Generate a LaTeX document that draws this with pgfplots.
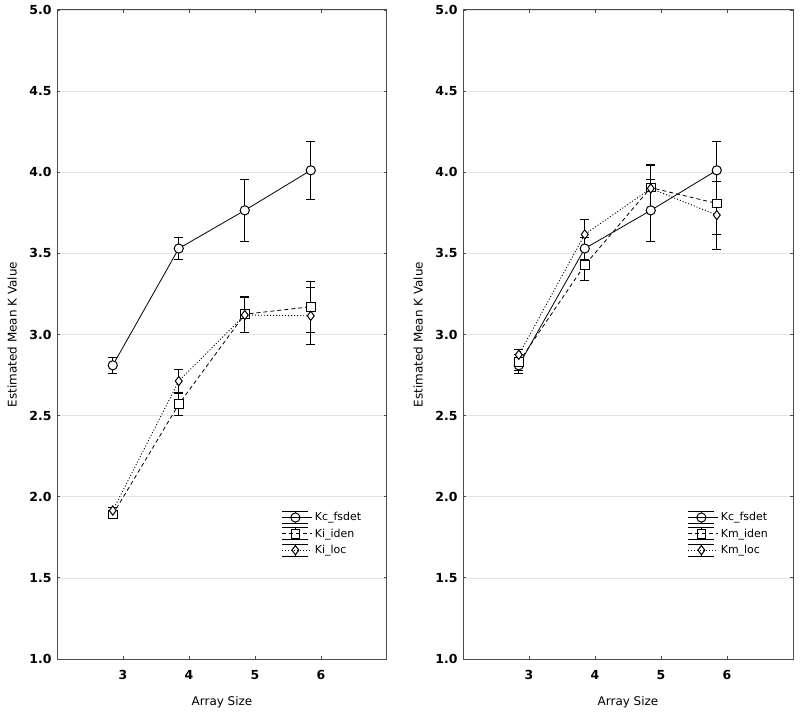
\documentclass[border=0pt]{standalone}
\usepackage{fontspec}
\setmainfont{DejaVu Sans}
\usepackage{pgfplots}
\pgfplotsset{compat=1.18}
\usepackage{pgfplotstable}

\pgfplotstableread{
x y e
2.845 2.810 0.050
3.845 3.530 0.070
4.845 3.765 0.190
5.845 4.012 0.180
}\fsdet
\pgfplotstableread{
x y e
2.845 1.890 0.020
3.845 2.570 0.068
4.845 3.125 0.112
5.845 3.171 0.156
}\kiiden
\pgfplotstableread{
x y e
2.845 1.915 0.020
3.845 2.713 0.070
4.845 3.120 0.110
5.845 3.115 0.176
}\kiloc
\pgfplotstableread{
x y e
2.845 2.830 0.050
3.845 3.428 0.093
4.845 3.905 0.145
5.845 3.808 0.190
}\kmiden
\pgfplotstableread{
x y e
2.845 2.875 0.035
3.845 3.617 0.090
4.845 3.900 0.145
5.845 3.736 0.210
}\kmloc

\pgfplotsset{
 panel/.style={
  scale only axis, width=330bp, height=649bp,
  xmin=2, xmax=7, ymin=1, ymax=5,
  xtick={3,4,5,6}, ytick={1,1.5,2,2.5,3,3.5,4,4.5,5},
  axis line style={black!70, line width=1bp},
  tick align=inside, major tick length=3bp,
  tick style={black!70, line width=0.8bp},
  ymajorgrids, grid style={black!10, line width=0.6bp},
  /pgf/number format/assume math mode=true,
  ticklabel style={font=\bfseries\fontsize{12.5}{14}\selectfont},
  yticklabel style={xshift=-2bp},
  y tick label style={/pgf/number format/.cd, fixed, fixed zerofill, precision=1},
  xticklabel style={yshift=-8bp},
  label style={font=\fontsize{12}{14}\selectfont},
  xlabel={Array Size},
  ylabel={Estimated Mean K Value},
  xlabel style={at={(axis description cs:0.5,-0.066)}, anchor=center},
  ylabel style={at={(axis description cs:-0.136,0.5)}, anchor=center},
  legend style={at={(axis description cs:0.672,0.232)}, anchor=north west, draw=none, fill=none,
    font=\fontsize{11}{13}\selectfont, row sep=2.5bp},
  legend cell align=left,
  legend image code/.code={
    \draw[solid, black, line width=0.8bp] (0bp,6bp) -- (26bp,6bp) (0bp,-6bp) -- (26bp,-6bp) (13bp,-6bp) -- (13bp,6bp);
    \draw[mark repeat=2, mark phase=2, #1] plot coordinates {(0bp,0bp) (13bp,0bp) (26bp,0bp)};
    \path (0bp,0bp) -- (30bp,0bp);
  },
 },
 errs/.style={error bars/.cd, y dir=both, y explicit,
   error bar style={solid, black, line width=0.8bp},
   error mark options={solid, black, rotate=90, mark size=4.5bp, line width=0.8bp}},
 sfs/.style={black, line width=0.8bp, solid, mark=*, mark size=4.6bp, mark options={solid, fill=white, line width=1bp}},
 sid/.style={black, line width=0.8bp, dash pattern=on 4bp off 3bp, mark=square*, mark size=4.3bp, mark options={solid, fill=white, line width=1bp}},
 slo/.style={black, line width=0.9bp, dash pattern=on 1bp off 2bp, mark=diamond*, mark size=4.6bp, mark options={solid, fill=white, line width=1bp}},
}

\begin{document}
\begin{tikzpicture}
\path[use as bounding box] (0,0) rectangle (800bp,715bp);
\begin{axis}[panel, at={(57bp,56bp)}, anchor=south west]
\addplot[sfs, errs] table[x=x, y=y, y error=e] {\fsdet};
\addlegendentry{Kc\_fsdet}
\addplot[sid, errs] table[x=x, y=y, y error=e] {\kiiden};
\addlegendentry{Ki\_iden}
\addplot[slo, errs] table[x=x, y=y, y error=e] {\kiloc};
\addlegendentry{Ki\_loc}
\end{axis}
\begin{axis}[panel, at={(463bp,56bp)}, anchor=south west]
\addplot[sfs, errs] table[x=x, y=y, y error=e] {\fsdet};
\addlegendentry{Kc\_fsdet}
\addplot[sid, errs] table[x=x, y=y, y error=e] {\kmiden};
\addlegendentry{Km\_iden}
\addplot[slo, errs] table[x=x, y=y, y error=e] {\kmloc};
\addlegendentry{Km\_loc}
\end{axis}
\end{tikzpicture}
\end{document}
